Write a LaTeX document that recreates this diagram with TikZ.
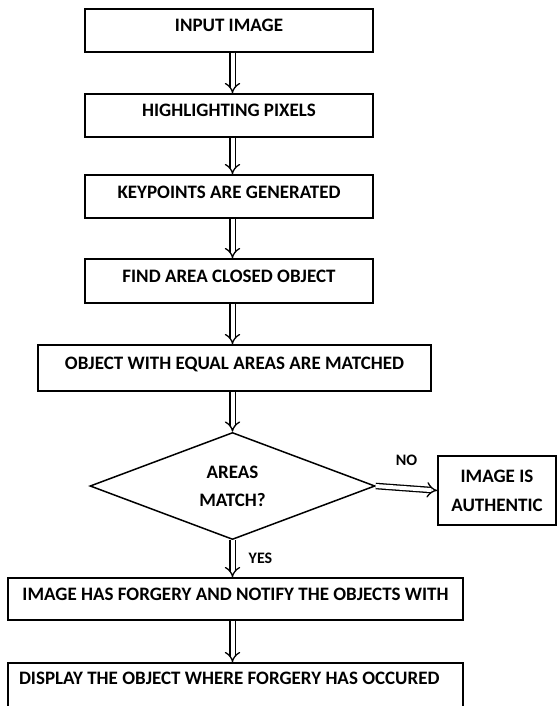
\documentclass[tikz,border=0pt]{standalone}
\usepackage{fontspec}
\setmainfont{Carlito}
\usetikzlibrary{shapes.geometric,arrows.meta}

\begin{document}
\begin{tikzpicture}[
x=1pt, y=-1pt,
box/.style={
  draw,
  line width=1.5pt,
  minimum width=288pt,
  minimum height=43pt,
  inner sep=0pt,
  text height=12pt,
  text depth=9pt,
  font=\fontsize{19}{22}\selectfont\bfseries
},
decision/.style={
  diamond,
  draw,
  line width=1.5pt,
  minimum width=285pt,
  minimum height=102pt,
  inner sep=0pt,
  align=center,
  font=\fontsize{19}{28}\selectfont\bfseries
},
flowarrow/.style={double, double distance=4pt, line width=1.3pt, -{Implies[scale=1.4]}},
edgenote/.style={font=\fontsize{16}{18}\selectfont\bfseries}
]

\useasboundingbox (0,0) rectangle (557,706);

\node (b1) at (229,30.5) [box] {INPUT IMAGE};
\node (b2) at (229,115.5) [box] {HIGHLIGHTING PIXELS};
\node (b3) at (229,196.5) [box] {KEYPOINTS ARE GENERATED};
\node (b4) at (229,281) [box, minimum height=44pt] {FIND AREA CLOSED OBJECT};
\node (b5) at (234.5,368) [box, minimum width=393pt, minimum height=46pt] {OBJECT WITH EQUAL AREAS ARE MATCHED};

\node (chk) at (232.5,486) [decision] {AREAS\\MATCH?};
\node (auth) at (497,490.5) [box, minimum width=118pt, minimum height=69pt,
  text height=, text depth=, align=center, font=\fontsize{19}{29}\selectfont\bfseries] {IMAGE IS\\AUTHENTIC};

\node (b6) at (235.5,599) [box, minimum width=455pt, minimum height=42pt] {IMAGE HAS FORGERY AND NOTIFY THE OBJECTS WITH};
\node (b7) at (235.5,685) [box, minimum height=44pt, inner xsep=11pt, text depth=14pt]
  {\makebox[433pt][l]{DISPLAY THE OBJECT WHERE FORGERY HAS OCCURED}};

\coordinate (col) at (232.5,0);

\draw [flowarrow] (b1.south -| col) -- (b2.north -| col);
\draw [flowarrow] (b2.south -| col) -- (b3.north -| col);
\draw [flowarrow] (b3.south -| col) -- (b4.north -| col);
\draw [flowarrow] (b4.south -| col) -- (b5.north -| col);
\draw [flowarrow] (b5.south -| col) -- (chk.north);

\draw [flowarrow] (chk.east) to node [edgenote, yshift=28pt] {NO} (auth.west);
\draw [flowarrow] (chk.south) to node [edgenote, xshift=28pt] {YES} (b6.north -| col);
\draw [flowarrow] (b6.south -| col) -- (b7.north -| col);

\end{tikzpicture}
\end{document}
